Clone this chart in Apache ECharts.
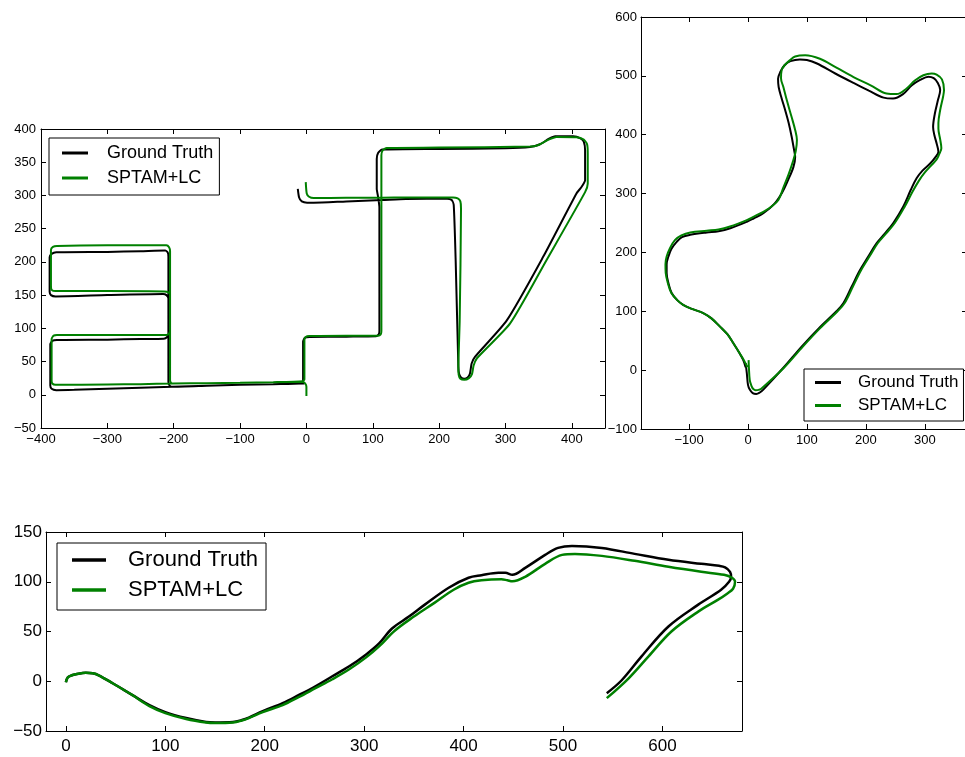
<!DOCTYPE html>
<html><head><meta charset="utf-8">
<script src="https://cdn.jsdelivr.net/npm/echarts@6/dist/echarts.min.js"></script>
<style>html,body{margin:0;padding:0;background:#fff}#c{width:965px;height:757px}</style>
</head><body><div id="c"></div>
<script>
const seriesNames = ['Ground Truth', 'SPTAM+LC'];
const seriesColors = ['#000000', '#008000'];

// Top-left trajectory
const groundTruthA = [[-3,17],[-50,16],[-100,15],[-150,13.5],[-203,12],[-250,10.5],[-300,9],[-350,7.5],[-377,7],
[-384,9],[-386,14],[-386,76],[-383,81],[-376,82.5],[-300,83],[-250,84],[-215,84.5],[-210,87],[-208,92],[-208,145],[-211,150],[-216,151.5],
[-300,150],[-378,148],[-385,150],[-387,155],[-387,207],[-384,212],[-377,214.5],[-300,215],[-250,216],[-213,217],[-209,214],[-208,208],
[-208,92],[-208,20],[-207,15],[-203,12],[-150,13.5],[-100,15],[-50,16],[-8,17],[-5,20],[-5,80],[-2,86],[5,87],[60,87.5],[105,88],[109,91],[110,96],[110,200],[110,282],[108,298],[106,310],[106,355],[108,364],[114,369],[200,370],[300,371],[337,373],[352,377],[365,385],[375,389],[402,389],[413,386],[418,381],[420,368],[420,323],[414,312],[407,303],[357,208],[302,112],[254,57],[249,47],[246.5,32],[243,26],[238,24],[233,26],[230,32],[229,42],[225,200],[222,286],[219,293],[212,295],[150,294.5],[114,293],[60,291],[11,289],[1,289],[-7,291],[-11,297],[-13,310]];
const sptamA = [[0,-2],[0,12],[-2,17],[-6,19.5],[-50,19],[-100,18],[-150,17.5],[-201,17],[-250,16],[-300,15.5],[-378,15],
[-383,17],[-384,22],[-384,84],[-381,89],[-376,90],[-300,90],[-250,90],[-211,90],[-207,92],[-205.5,97],[-205.5,150],[-208,154],[-214,155.5],[-300,156],[-378,156],[-384,158],[-385,164],[-385,218],[-382,222.5],[-376,224],[-300,225],[-250,225],[-211,225],[-207,222],[-205.5,216],
[-205.5,97],[-205.5,22],[-204,18],[-201,17],[-150,17.5],[-100,18],[-50,19],[-6,20.5],[-3,23],[-3,83],[-1,87],[4,88.5],[60,89],[108,89],[112,91],[113,96],[113,360],[115,368],[121,371.5],[200,372],[337,373.5],[350,376],[365,384],[377,388],[407,387.5],[418,384],[423,377],[424,363],[424,318],[420,305],[362,203],[307,107.5],[257,55],[252,44],[249.5,31],[245,25],[238,22.5],[232,24],[229.5,30],[229,40],[231,112],[233,280],[232,291],[228,295.5],[221,297],[150,297],[114,296.5],[60,296.5],[11,296],[4,298],[0.5,303],[-1,320]];

// Top-right trajectory
const groundTruthB = [[-4,12],[-2,-5],[0,-25],[3,-33],[8,-39],[14,-40.5],[20,-38],[26,-33],[60,4],[91,40],[120,71],[150,100],[162,114],[176,142],[190,170],[204,193],[218,215.6],[232,232],[246.5,250],[263.5,278],[276,306],[286,326],[296,339],[309,351],[318,362],[323,371],[320,385],[316,400],[314,413],[317,436],[322,458],[326,476],[322,488],[315,496],[306,498.5],[292,493],[278,484],[263,469],[246,461.5],[230,463],[205,475],[179,488],[148,504],[117,521],[100,527],[88,528],[72,525],[62,518],[55,507],[51,495],[52,481],[57,462],[63,442],[69,420],[74,397],[78,375],[80,362],[77,345],[68,323],[58,302],[45,283],[26,266.5],[10,258],[-2,252],[-30,241],[-50,236],[-70,234],[-98,230],[-112,226],[-121,218],[-130,206],[-135,193],[-138,180],[-138,165],[-135,148],[-129.5,131],[-120,119],[-110,111],[-95,104],[-76,97],[-62,88],[-47.5,74],[-35,61],[-25,46],[-15,30],[-8,17],[-4,5]];
const sptamB = [[1,17],[1.5,5],[3,-17],[6,-27],[9,-32],[13,-34],[18,-33.5],[22,-32],[61,4],[93,40],[122,71],[152,100],[164,114],[178,142],[192,170],[206,193],[220,215.6],[234,232],[249,250],[266,278],[279,303],[290,322],[300,336],[311,348],[320,358],[324,366],[328,377],[326,392],[323,410],[323,420],[326,442],[331,465],[332.5,476],[329,494],[320,502],[311.6,504],[297.5,501],[283,492],[269,478.5],[252,469],[235,470],[208,484],[179,498],[150,514],[122,529],[97,535],[80,533],[71,526.5],[62,518],[57,509.6],[56,496],[60,481],[66,458],[74,430],[80,408],[83,391],[81,372],[77,357],[69,333],[60,310],[51.5,289],[40,278],[26,269],[10,261],[-2,255],[-30.5,244],[-50,239],[-70,237],[-98,234],[-113,229],[-124,221],[-132,208],[-138,193],[-140,180],[-139.6,165],[-136,148],[-130,131],[-120,119],[-110,111],[-95,104],[-76,97],[-62,88],[-47.5,74],[-35,61],[-25,46],[-15,30],[-7,17],[-1,5]];

// Bottom trajectory
const groundTruthC = [[0,-1],[2,4],[6,6],[10,7],[20,8.5],[27,8],[33,6],[47,-2],[67,-14],[84,-24],[100,-31],[121,-37],[141,-41],[150,-41.5],[168,-41],[177,-39],[184,-36.5],[198,-30],[218,-22],[234,-14],[251,-5],[268,5],[285,15],[302,27],[315,38],[328,53],[345,65],[361,77],[385,94],[405,104],[418,106.5],[435,109],[442,109],[449,107],[462,114],[482,127],[495,134],[509,136],[539,134],[572,128],[606,122],[639,118],[657,116],[663,114.5],[668,110],[669,105],[667,100],[659,92],[636,77],[606,55],[579,25],[559,1],[544,-12]];
const sptamC = [[0,-1],[2,4],[6,6],[10,7],[20,8.5],[27,8],[33,6],[47,-2],[67,-14],[84,-25],[100,-32],[121,-38],[141,-41.5],[150,-42],[168,-41.5],[177,-39.5],[184,-37],[198,-31],[218,-24],[234,-16],[251,-7],[268,2],[285,12],[302,24],[315,35],[331,51],[350,65],[371,79],[390,92],[405,99],[418,101.5],[438,102.5],[444,101.5],[449,100.5],[462,105],[482,118],[499,127],[512,128],[539,126],[572,121],[606,115],[639,110],[662,107],[670,104],[673,100],[671,93],[665,88],[656,82],[636,70],[609,50],[586,25],[566,3],[544,-17]];

const FONT = '"Liberation Sans", Arial, sans-serif';

function fmt(step) {
  return function (v) {
    const r = Math.abs(v / step - Math.round(v / step));
    if (r > 1e-6) return '';
    return (v < 0 ? '\u2212' : '') + Math.abs(Math.round(v));
  };
}

function axisPair(kind, grid, min, max, interval, step, fs, margin) {
  const base = {
    type: 'value', gridIndex: grid, min: min, max: max, scale: true,
    splitLine: { show: false },
    axisLine: { show: true, onZero: false, lineStyle: { color: '#000', width: 1 } },
    axisTick: { show: true, inside: true, length: 5, lineStyle: { color: '#000', width: 1 } }
  };
  if (interval) base.interval = interval; else base.splitNumber = 5;
  const main = Object.assign({}, base, {
    position: kind === 'x' ? 'bottom' : 'left',
    axisLabel: { show: true, margin: margin, fontSize: fs, fontFamily: FONT, color: '#000', formatter: fmt(step) }
  });
  const other = Object.assign({}, base, {
    position: kind === 'x' ? 'top' : 'right',
    axisLabel: { show: false }
  });
  return [main, other];
}

const grids = [
  { left: 41, top: 129, width: 564, height: 299, outerBoundsMode: 'none' },
  { left: 641, top: 17, width: 326, height: 412, outerBoundsMode: 'none' },
  { left: 46, top: 532, width: 696, height: 199, outerBoundsMode: 'none' }
];

const xAxes = [].concat(
  axisPair('x', 0, -400, 450, 100, 100, 13, 5),
  axisPair('x', 1, -181.5, 371.5, null, 100, 13, 5),
  axisPair('x', 2, -20, 680, null, 100, 17, 7)
);
const yAxes = [].concat(
  axisPair('y', 0, -50, 400, 50, 50, 13, 5),
  axisPair('y', 1, -100, 600, 100, 100, 13, 4),
  axisPair('y', 2, -50, 150, 50, 50, 17, 4)
);

function lineSeries(name, idx, data, color, width, smooth) {
  return {
    type: 'line', name: name, xAxisIndex: idx * 2, yAxisIndex: idx * 2,
    data: data, showSymbol: false, symbol: 'none', smooth: smooth, clip: true,
    lineStyle: { color: color, width: width }, itemStyle: { color: color },
    animation: false
  };
}

const series = [
  lineSeries(seriesNames[0], 0, groundTruthA, seriesColors[0], 2, 0.2),
  lineSeries(seriesNames[1], 0, sptamA, seriesColors[1], 2, 0.2),
  lineSeries(seriesNames[0], 1, groundTruthB, seriesColors[0], 2, 0.35),
  lineSeries(seriesNames[1], 1, sptamB, seriesColors[1], 2, 0.35),
  lineSeries(seriesNames[0], 2, groundTruthC, seriesColors[0], 2.5, 0.35),
  lineSeries(seriesNames[1], 2, sptamC, seriesColors[1], 2.5, 0.35)
];

function legend(left, top, fs, iw, ih, gap, textPad, padding) {
  return {
    data: seriesNames, orient: 'vertical', left: left, top: top,
    icon: 'rect', itemWidth: iw, itemHeight: ih, itemGap: gap,
    padding: padding, borderColor: '#000', borderWidth: 1, borderRadius: 0,
    backgroundColor: '#fff', selectedMode: false,
    textStyle: { fontSize: fs, fontFamily: FONT, color: '#000', padding: [0, 0, 0, textPad] }
  };
}

const option = {
  animation: false,
  backgroundColor: '#ffffff',
  grid: grids,
  xAxis: xAxes,
  yAxis: yAxes,
  legend: [
    legend(49, 138, 18, 26, 3, 7, 14, [6, 6, 8, 13]),
    legend(804, 369, 17, 26, 3, 6, 12, [5, 5, 7, 11]),
    legend(57, 543, 22, 34, 3.5, 8, 17, [6, 8, 9, 15])
  ],
  series: series
};

const chart = echarts.init(document.getElementById('c'), null, { renderer: 'canvas' });
chart.setOption(option);
</script>
</body></html>
